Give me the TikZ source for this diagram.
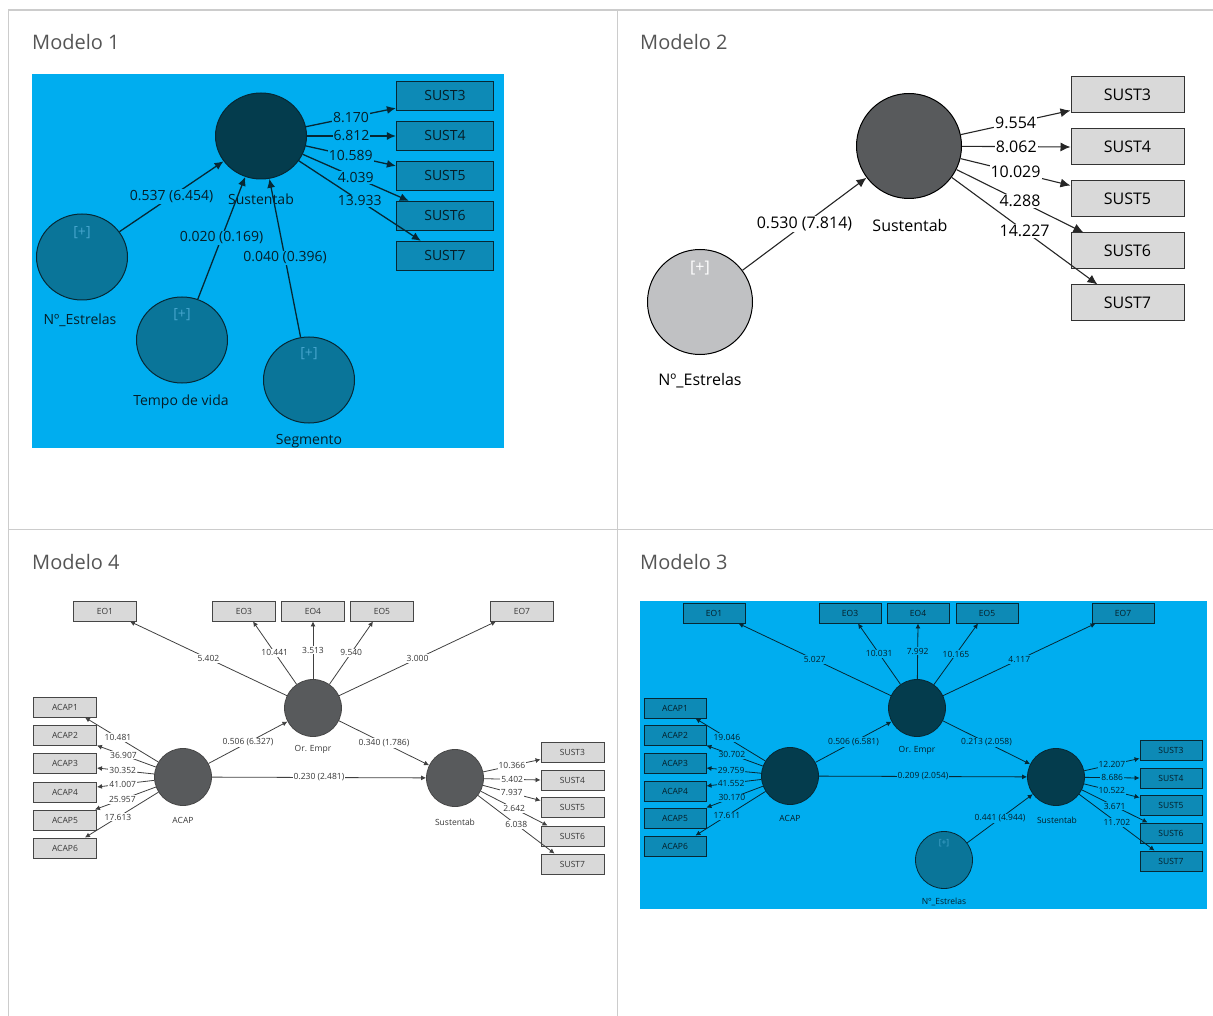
\documentclass[tikz,border=0pt]{standalone}
\usepackage{fontspec}
\setmainfont{Open Sans}
\usetikzlibrary{shapes.geometric,arrows.meta}

\definecolor{plsblue}{RGB}{0,173,239}
\definecolor{darklv}{RGB}{4,60,77}
\definecolor{tealv}{RGB}{10,117,153}
\definecolor{tealbox}{RGB}{13,138,182}
\definecolor{darkline}{RGB}{6,40,52}
\definecolor{darktext}{RGB}{5,30,40}
\definecolor{plustext}{RGB}{70,165,205}
\definecolor{graylv}{RGB}{88,90,92}
\definecolor{lightlv}{RGB}{192,193,195}
\definecolor{graybox}{RGB}{217,217,217}
\definecolor{framegray}{RGB}{204,204,204}
\definecolor{titlegray}{RGB}{85,85,85}
\definecolor{boxline}{RGB}{70,70,70}
\definecolor{smalltext}{RGB}{55,55,55}

\tikzset{
  frame/.style={draw=framegray, line width=1pt},
  panel/.style={font=\fontsize{20}{24}\selectfont, text=titlegray, anchor=base west, inner sep=0},
  lv1/.style={ellipse, draw=darkline, line width=1pt, minimum width=91pt, minimum height=86pt, inner sep=0},
  mv1/.style={draw=darkline, line width=1.2pt, fill=tealbox, minimum width=97pt, minimum height=29pt, inner sep=0, font=\fontsize{14}{16}\selectfont, text=darktext},
  pth1/.style={draw=darkline, line width=1.3pt, -{Latex[length=9pt,width=8pt]}},
  val1/.style={midway, fill=plsblue, inner sep=1pt, font=\fontsize{14}{16}\selectfont, text=darktext},
  txt1/.style={font=\fontsize{14}{16}\selectfont, text=darktext},
  plus1/.style={font=\fontsize{14}{16}\selectfont, text=plustext},
  lv2/.style={circle, draw=black, line width=1pt, minimum size=105pt, inner sep=0},
  mv2/.style={draw=black!80, line width=1pt, fill=graybox, minimum width=113pt, minimum height=36pt, inner sep=0, font=\fontsize{16}{18}\selectfont},
  pth2/.style={draw=black!85, line width=1.1pt, -{Latex[length=10pt,width=9pt]}},
  val2/.style={midway, fill=white, inner sep=1pt, font=\fontsize{16}{18}\selectfont},
  txt2/.style={font=\fontsize{16}{18}\selectfont},
  lv4/.style={circle, draw=boxline, line width=0.8pt, fill=graylv, minimum size=57pt, inner sep=0},
  mv4/.style={draw=boxline, line width=0.9pt, fill=graybox, minimum width=63pt, minimum height=20pt, inner sep=0, font=\fontsize{8.5}{10}\selectfont, text=smalltext},
  pth4/.style={draw=black!75, line width=0.8pt, -{Latex[length=5pt,width=5pt]}},
  val4/.style={midway, fill=white, inner sep=1pt, font=\fontsize{8.5}{10}\selectfont, text=smalltext},
  txt4/.style={font=\fontsize{8.5}{10}\selectfont, text=smalltext},
  lv3/.style={circle, draw=darkline, line width=0.8pt, minimum size=57pt, inner sep=0},
  mv3/.style={draw=darkline, line width=0.9pt, fill=tealbox, minimum width=62pt, minimum height=20pt, inner sep=0, font=\fontsize{8.5}{10}\selectfont, text=darktext},
  pth3/.style={draw=darkline, line width=0.8pt, -{Latex[length=5pt,width=5pt]}},
  val3/.style={midway, fill=plsblue, inner sep=1pt, font=\fontsize{8.5}{10}\selectfont, text=darktext},
  txt3/.style={font=\fontsize{8.5}{10}\selectfont, text=darktext},
  plus3/.style={font=\fontsize{8.5}{10}\selectfont, text=plustext},
}

\begin{document}
\begin{tikzpicture}[x=1pt, y=-1pt]

\useasboundingbox (0,0) rectangle (1213,1016);

\draw [frame, line width=2.5pt] (8,10) -- (1213,10);
\draw [frame] (8,10) -- (8,1016);
\draw [frame] (617,10) -- (617,1016);
\draw [frame] (8,529) -- (1213,529);

\node (t1) at (32,50) [panel]{Modelo 1};
\node (t2) at (640,50) [panel]{Modelo 2};
\node (t4) at (32,569) [panel]{Modelo 4};
\node (t3) at (640,569) [panel]{Modelo 3};

\fill [plsblue] (32,74) rectangle (504,448);

\node (sus1) at (261,136) [lv1,fill=darklv]{};
\node (nest1) at (82,257) [lv1,fill=tealv]{};
\node (tempo1) at (182,340) [lv1,fill=tealv]{};
\node (seg1) at (309,380) [lv1,fill=tealv]{};

\node (sus1t) at (261,199) [txt1]{Sustentab};
\node (nest1t) at (80,320) [txt1]{Nº\_Estrelas};
\node (tempo1t) at (181,402) [txt1]{Tempo de vida};
\node (seg1t) at (309,441) [txt1]{Segmento};
\node (nest1p) at (82,233) [plus1]{[+]};
\node (tempo1p) at (182,315) [plus1]{[+]};
\node (seg1p) at (309,354) [plus1]{[+]};

\node (s31) at (445,96) [mv1]{SUST3};
\node (s41) at (445,136) [mv1]{SUST4};
\node (s51) at (445,176) [mv1]{SUST5};
\node (s61) at (445,216) [mv1]{SUST6};
\node (s71) at (445,256) [mv1]{SUST7};

\draw [pth1] (nest1) -- (sus1) node [val1]{0.537 (6.454)};
\draw [pth1] (tempo1) -- (sus1) node [val1]{0.020 (0.169)};
\draw [pth1] (seg1) -- (sus1) node [val1]{0.040 (0.396)};

\draw [pth1] (sus1) -- ([yshift=3pt]s31.south west) node [val1]{8.170};
\draw [pth1] (sus1) -- (s41.west) node [val1]{6.812};
\draw [pth1] (sus1) -- ([yshift=-5pt]s51.north west) node [val1]{10.589};
\draw [pth1] (sus1) -- ([xshift=13pt]s61.north west) node [val1]{4.039};
\draw [pth1] (sus1) -- ([xshift=25pt]s71.north west) node [val1]{13.933};

\node (sus2) at (909,146) [lv2,fill=graylv]{};
\node (nest2) at (700,302) [lv2,fill=lightlv]{};

\node (sus2t) at (910,226) [txt2]{Sustentab};
\node (nest2t) at (700,381) [txt2]{Nº\_Estrelas};
\node (nest2p) at (700,268) [txt2,text=white]{[+]};

\node (s32) at (1127.5,95) [mv2]{SUST3};
\node (s42) at (1127.5,147) [mv2]{SUST4};
\node (s52) at (1127.5,199) [mv2]{SUST5};
\node (s62) at (1127.5,251) [mv2]{SUST6};
\node (s72) at (1127.5,303) [mv2]{SUST7};

\draw [pth2] (nest2) -- (sus2) node [val2]{0.530 (7.814)};

\draw [pth2] (sus2) -- ([yshift=3pt]s32.south west) node [val2]{9.554};
\draw [pth2] (sus2) -- (s42.west) node [val2]{8.062};
\draw [pth2] (sus2) -- ([yshift=-5pt]s52.north west) node [val2]{10.029};
\draw [pth2] (sus2) -- ([xshift=13pt]s62.north west) node [val2]{4.288};
\draw [pth2] (sus2) -- ([xshift=27pt]s72.north west) node [val2]{14.227};

\node (or4) at (313,708) [lv4]{};
\node (acap4) at (183,777) [lv4]{};
\node (sus4) at (455,778) [lv4]{};

\node (or4t) at (313,749) [txt4]{Or. Empr};
\node (acap4t) at (183,820) [txt4]{ACAP};
\node (sus4t) at (455,822) [txt4]{Sustentab};

\node (eo14) at (105,611) [mv4]{EO1};
\node (eo34) at (244,611) [mv4]{EO3};
\node (eo44) at (313,611) [mv4]{EO4};
\node (eo54) at (382,611) [mv4]{EO5};
\node (eo74) at (522,611) [mv4]{EO7};

\node (a14) at (65,707) [mv4]{ACAP1};
\node (a24) at (65,735) [mv4]{ACAP2};
\node (a34) at (65,763) [mv4]{ACAP3};
\node (a44) at (65,792) [mv4]{ACAP4};
\node (a54) at (65,820) [mv4]{ACAP5};
\node (a64) at (65,848) [mv4]{ACAP6};

\node (s34) at (572.5,752) [mv4]{SUST3};
\node (s44) at (572.5,780) [mv4]{SUST4};
\node (s54) at (572.5,807) [mv4]{SUST5};
\node (s64) at (572.5,836) [mv4]{SUST6};
\node (s74) at (572.5,864) [mv4]{SUST7};

\draw [pth4] (or4) -- ([xshift=-7pt]eo14.south east) node [val4]{5.402};
\draw [pth4] (or4) -- ([xshift=9pt]eo34.south) node [val4]{10.441};
\draw [pth4] (or4) -- (eo44.south) node [val4]{3.513};
\draw [pth4] (or4) -- ([xshift=-9pt]eo54.south) node [val4]{9.540};
\draw [pth4] (or4) -- ([xshift=6pt]eo74.south west) node [val4]{3.000};

\draw [pth4] (acap4) -- (or4) node [val4]{0.506 (6.327)};
\draw [pth4] (acap4) -- (sus4) node [val4]{0.230 (2.481)};
\draw [pth4] (or4) -- (sus4) node [val4]{0.340 (1.786)};

\draw [pth4] (acap4) -- ([xshift=-12pt]a14.south east) node [val4,pos=0.55]{10.481};
\draw [pth4] (acap4) -- (a24.south east) node [val4,pos=0.55]{36.907};
\draw [pth4] (acap4) -- ([yshift=-5pt]a34.east) node [val4,pos=0.55]{30.352};
\draw [pth4] (acap4) -- ([yshift=5pt]a44.east) node [val4,pos=0.55]{41.007};
\draw [pth4] (acap4) -- ([xshift=-2pt]a54.north east) node [val4,pos=0.55]{25.957};
\draw [pth4] (acap4) -- ([xshift=-12pt]a64.north east) node [val4,pos=0.55]{17.613};

\draw [pth4] (sus4) -- ([yshift=3pt]s34.south west) node [val4]{10.366};
\draw [pth4] (sus4) -- (s44.west) node [val4]{5.402};
\draw [pth4] (sus4) -- ([yshift=-4pt]s54.north west) node [val4]{7.937};
\draw [pth4] (sus4) -- ([xshift=7pt]s64.north west) node [val4]{2.642};
\draw [pth4] (sus4) -- ([xshift=14pt]s74.north west) node [val4]{6.038};

\fill [plsblue] (640,601) rectangle (1207,909);

\node (or3) at (917,708) [lv3,fill=darklv]{};
\node (acap3) at (790,776) [lv3,fill=darklv]{};
\node (sus3) at (1056,777) [lv3,fill=darklv]{};
\node (nest3) at (944,860) [lv3,fill=tealv]{};

\node (or3t) at (917,750) [txt3]{Or. Empr};
\node (acap3t) at (790,818) [txt3]{ACAP};
\node (sus3t) at (1057,820) [txt3]{Sustentab};
\node (nest3t) at (944,902) [txt3]{Nº\_Estrelas};
\node (nest3p) at (944,843) [plus3]{[+]};

\node (eo13) at (714,613) [mv3]{EO1};
\node (eo33) at (850,613) [mv3]{EO3};
\node (eo43) at (918,613) [mv3]{EO4};
\node (eo53) at (987,613) [mv3]{EO5};
\node (eo73) at (1123,613) [mv3]{EO7};

\node (a13) at (675,708) [mv3]{ACAP1};
\node (a23) at (675,735) [mv3]{ACAP2};
\node (a33) at (675,763) [mv3]{ACAP3};
\node (a43) at (675,791) [mv3]{ACAP4};
\node (a53) at (675,818) [mv3]{ACAP5};
\node (a63) at (675,846) [mv3]{ACAP6};

\node (s33) at (1171,750) [mv3]{SUST3};
\node (s43) at (1171,778) [mv3]{SUST4};
\node (s53) at (1171,805) [mv3]{SUST5};
\node (s63) at (1171,833) [mv3]{SUST6};
\node (s73) at (1171,861) [mv3]{SUST7};

\draw [pth3] (or3) -- ([xshift=-7pt]eo13.south east) node [val3]{5.027};
\draw [pth3] (or3) -- ([xshift=8pt]eo33.south) node [val3]{10.031};
\draw [pth3] (or3) -- (eo43.south) node [val3]{7.992};
\draw [pth3] (or3) -- ([xshift=-9pt]eo53.south) node [val3]{10.165};
\draw [pth3] (or3) -- ([xshift=4pt]eo73.south west) node [val3]{4.117};

\draw [pth3] (acap3) -- (or3) node [val3]{0.506 (6.581)};
\draw [pth3] (acap3) -- (sus3) node [val3]{0.209 (2.054)};
\draw [pth3] (or3) -- (sus3) node [val3]{0.213 (2.058)};
\draw [pth3] (nest3) -- (sus3) node [val3]{0.441 (4.944)};

\draw [pth3] (acap3) -- ([xshift=-11pt]a13.south east) node [val3,pos=0.55]{19.046};
\draw [pth3] (acap3) -- (a23.south east) node [val3,pos=0.55]{30.702};
\draw [pth3] (acap3) -- ([yshift=-5pt]a33.east) node [val3,pos=0.55]{29.759};
\draw [pth3] (acap3) -- ([yshift=5pt]a43.east) node [val3,pos=0.55]{41.552};
\draw [pth3] (acap3) -- (a53.north east) node [val3,pos=0.55]{30.170};
\draw [pth3] (acap3) -- ([xshift=-11pt]a63.north east) node [val3,pos=0.55]{17.611};

\draw [pth3] (sus3) -- ([yshift=2pt]s33.south west) node [val3]{12.207};
\draw [pth3] (sus3) -- (s43.west) node [val3]{8.686};
\draw [pth3] (sus3) -- ([yshift=-3pt]s53.north west) node [val3]{10.522};
\draw [pth3] (sus3) -- ([xshift=8pt]s63.north west) node [val3]{3.671};
\draw [pth3] (sus3) -- ([xshift=15pt]s73.north west) node [val3]{11.702};

\end{tikzpicture}
\end{document}
